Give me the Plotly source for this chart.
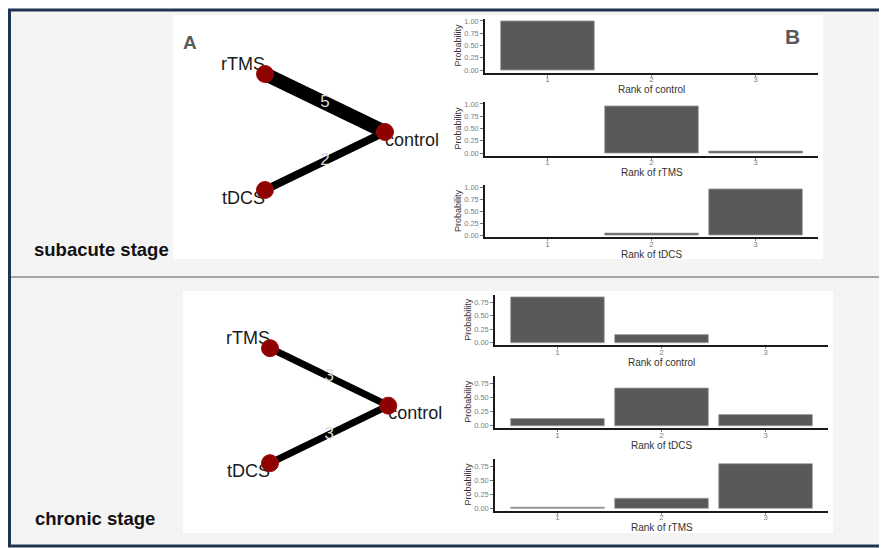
import plotly.graph_objects as go

# The page body has an 8px margin, so the figure is drawn 8px in from the window
# corner; all positions below are given in window pixels and converted.
OX, OY = 8, 8
W, H = 879, 540

# ---------------- data ----------------
ranks = [1, 2, 3]
rank_tick_labels = ["1", "2", "3"]
prob_ticks_sub = [0.0, 0.25, 0.5, 0.75, 1.0]
prob_ticks_chr = [0.0, 0.25, 0.5, 0.75]

# subacute stage: rank probabilities
sub_titles = ["Rank of control", "Rank of rTMS", "Rank of tDCS"]
sub_prob_control = [1.00, 0.00, 0.00]
sub_prob_rtms = [0.00, 0.96, 0.04]
sub_prob_tdcs = [0.00, 0.04, 0.96]

# chronic stage: rank probabilities
chr_titles = ["Rank of control", "Rank of tDCS", "Rank of rTMS"]
chr_prob_control = [0.85, 0.15, 0.00]
chr_prob_tdcs = [0.13, 0.67, 0.20]
chr_prob_rtms = [0.02, 0.18, 0.80]

# network graph (layout coordinates of nodes)
net_nodes = ["rTMS", "control", "tDCS"]
net_node_x = [-1, 1, -1]
net_node_y = [1, 0, -1]
net_edge_from = ["rTMS", "tDCS"]
net_edge_to = ["control", "control"]
sub_edge_studies = [5, 2]
chr_edge_studies = [3, 3]

stage_labels = ["subacute stage", "chronic stage"]

# ---------------- styles ----------------
FONT = "Liberation Sans, Arial, sans-serif"
sub_edge_widths = [14, 8]
chr_edge_widths = [7, 7]
node_label_pos = ["top left", "bottom right", "bottom left"]


def fx(p):
    return (p - OX) / W


def fy(p):
    return 1 - (p - OY) / H


fig = go.Figure()
layout = {}
annotations = []


def axname(i):
    return ("x" if i == 1 else f"x{i}"), ("y" if i == 1 else f"y{i}")


def add_bar_panel(i, values, title, xdom, ydom, yrange, yticks):
    xa, ya = axname(i)
    fig.add_trace(go.Bar(
        x=ranks, y=values, xaxis=xa, yaxis=ya, width=0.9,
        marker=dict(color="#595959",
                    line=dict(color="#a0a0a0", width=[0 if v == 0 else 0.8 for v in values])),
        showlegend=False, hovertemplate="Rank %{x}: %{y:.2f}<extra></extra>"))
    kx = "xaxis" if i == 1 else f"xaxis{i}"
    ky = "yaxis" if i == 1 else f"yaxis{i}"
    layout[kx] = dict(
        domain=[fx(xdom[0]), fx(xdom[1])], anchor=ya, range=[0.4, 3.6],
        tickvals=ranks, ticktext=rank_tick_labels, showline=True,
        linecolor="#1a1a1a", linewidth=2, ticks="outside", ticklen=2,
        tickcolor="#888", tickfont=dict(size=8, color="#808080", family=FONT),
        ticklabelstandoff=-4,
        showgrid=False, zeroline=False, automargin=False)
    layout[ky] = dict(
        domain=[fy(ydom[1]), fy(ydom[0])], anchor=xa, range=yrange,
        tickvals=yticks, tickformat=".2f", showline=True,
        linecolor="#1a1a1a", linewidth=1.5, ticks="outside", ticklen=3,
        tickcolor="#777", tickfont=dict(size=7.5, color="#808080", family=FONT),
        title=dict(text="Probability", font=dict(size=9, color="#333", family=FONT), standoff=1),
        showgrid=False, zeroline=False, automargin=False)
    # x-axis title placed just under the tick labels
    annotations.append(dict(
        text=title, xref="paper", yref="paper",
        x=fx((xdom[0] + xdom[1]) / 2), y=fy(ydom[1] + 17),
        xanchor="center", yanchor="middle", showarrow=False,
        font=dict(size=10, color="#333", family=FONT)))


# subacute bar charts
sub_vals = [sub_prob_control, sub_prob_rtms, sub_prob_tdcs]
sub_ydoms = [(18.5, 72.5), (101.5, 155.5), (184.6, 237.4)]
for k in range(3):
    add_bar_panel(k + 1, sub_vals[k], sub_titles[k], (485, 818), sub_ydoms[k],
                  [-0.05, 1.05], prob_ticks_sub)

# chronic bar charts
chr_max = max(max(chr_prob_control), max(chr_prob_tdcs), max(chr_prob_rtms))
chr_vals = [chr_prob_control, chr_prob_tdcs, chr_prob_rtms]
chr_ydoms = [(294.6, 345.0), (375.5, 428.2), (458.5, 510.7)]
for k in range(3):
    add_bar_panel(k + 4, chr_vals[k], chr_titles[k], (495, 828), chr_ydoms[k],
                  [-0.05 * chr_max, 1.05 * chr_max], prob_ticks_chr)


def add_network(i, dom_x, dom_y, center, scale, studies, widths):
    xa, ya = axname(i)
    cx, cy = center
    sx, sy = scale
    layout[f"xaxis{i}"] = dict(domain=[fx(dom_x[0]), fx(dom_x[1])], anchor=ya,
                               range=[(dom_x[0] - cx) / sx, (dom_x[1] - cx) / sx],
                               visible=False, fixedrange=True)
    layout[f"yaxis{i}"] = dict(domain=[fy(dom_y[1]), fy(dom_y[0])], anchor=xa,
                               range=[(cy - dom_y[1]) / sy, (cy - dom_y[0]) / sy],
                               visible=False, fixedrange=True)
    pos = {n: (net_node_x[j], net_node_y[j]) for j, n in enumerate(net_nodes)}
    for e in range(len(net_edge_from)):
        a, b = pos[net_edge_from[e]], pos[net_edge_to[e]]
        fig.add_trace(go.Scatter(x=[a[0], b[0]], y=[a[1], b[1]], mode="lines",
                                 line=dict(color="#000", width=widths[e]),
                                 xaxis=xa, yaxis=ya, showlegend=False, hoverinfo="skip"))
    mx = [(pos[net_edge_from[e]][0] + pos[net_edge_to[e]][0]) / 2 for e in range(len(net_edge_from))]
    my = [(pos[net_edge_from[e]][1] + pos[net_edge_to[e]][1]) / 2 for e in range(len(net_edge_from))]
    fig.add_trace(go.Scatter(x=mx, y=my, mode="text", text=[str(s) for s in studies],
                             textfont=dict(size=17, color="#dcdcdc", family=FONT),
                             textposition="middle center", cliponaxis=False,
                             xaxis=xa, yaxis=ya, showlegend=False, hoverinfo="skip"))
    fig.add_trace(go.Scatter(x=net_node_x, y=net_node_y, mode="text", text=net_nodes,
                             textposition=node_label_pos, cliponaxis=False,
                             textfont=dict(size=18, color="#1a1a1a", family=FONT),
                             xaxis=xa, yaxis=ya, showlegend=False, hoverinfo="skip"))
    fig.add_trace(go.Scatter(x=net_node_x, y=net_node_y, mode="markers",
                             marker=dict(size=17, color="#8f0000",
                                         line=dict(color="#a01010", width=1)),
                             text=net_nodes, hoverinfo="text", cliponaxis=False,
                             xaxis=xa, yaxis=ya, showlegend=False))


add_network(7, (173, 440), (15, 259), (325, 132), (60, 58), sub_edge_studies, sub_edge_widths)
add_network(8, (183, 440), (291, 533), (329.15, 405.65), (59.15, 57.5), chr_edge_studies, chr_edge_widths)

shapes = [
    # outer slide frame
    dict(type="rect", xref="paper", yref="paper", x0=fx(9.5), x1=fx(895), y0=fy(546), y1=fy(10),
         fillcolor="#f4f4f4", line=dict(color="#1f3450", width=3), layer="below"),
    # divider between stages
    dict(type="line", xref="paper", yref="paper", x0=fx(11), x1=fx(890), y0=fy(277), y1=fy(277),
         line=dict(color="#8c8c8c", width=1.5), layer="below"),
    # white figure areas
    dict(type="rect", xref="paper", yref="paper", x0=fx(173), x1=fx(823), y0=fy(259), y1=fy(15),
         fillcolor="#ffffff", line=dict(width=0), layer="below"),
    dict(type="rect", xref="paper", yref="paper", x0=fx(183), x1=fx(833), y0=fy(533), y1=fy(291),
         fillcolor="#ffffff", line=dict(width=0), layer="below"),
]

annotations += [
    dict(text="<b>A</b>", x=fx(190), y=fy(42), xref="paper", yref="paper", showarrow=False,
         font=dict(size=19, color="#5a5a5a", family=FONT), xanchor="center", yanchor="middle"),
    dict(text="<b>B</b>", x=fx(792), y=fy(37), xref="paper", yref="paper", showarrow=False,
         font=dict(size=21, color="#5a5a5a", family=FONT), xanchor="center", yanchor="middle"),
    dict(text="<b>" + stage_labels[0] + "</b>", x=fx(32), y=fy(249), xref="paper", yref="paper",
         showarrow=False, font=dict(size=18.5, color="#111", family=FONT), xanchor="left", yanchor="middle"),
    dict(text="<b>" + stage_labels[1] + "</b>", x=fx(33), y=fy(518), xref="paper", yref="paper",
         showarrow=False, font=dict(size=18.5, color="#111", family=FONT), xanchor="left", yanchor="middle"),
]

fig.update_layout(
    width=W, height=H, margin=dict(l=0, r=0, t=0, b=0),
    paper_bgcolor="#ffffff", plot_bgcolor="rgba(0,0,0,0)",
    shapes=shapes, annotations=annotations, showlegend=False,
    font=dict(family=FONT), bargap=0.1,
    **layout)

fig.write_html("out.html")
